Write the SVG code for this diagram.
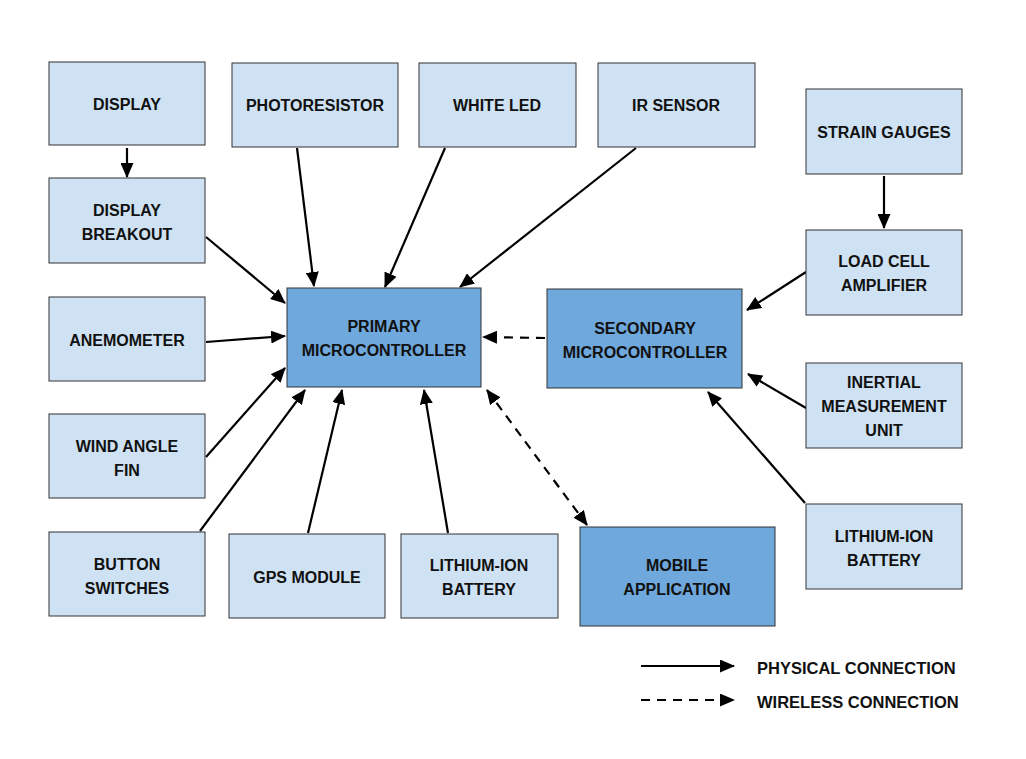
<svg xmlns="http://www.w3.org/2000/svg" width="1026" height="759" viewBox="0 0 1026 759">
<style>
.lt{fill:#cfe2f3;stroke:#333;stroke-width:1}
.dk{fill:#6fa8dc;stroke:#333;stroke-width:1}
text{font-family:"Liberation Sans",Arial,sans-serif;font-weight:bold;font-size:16px;fill:#111;text-anchor:middle;dominant-baseline:central}
.lg{text-anchor:start;font-size:16.5px}
.c{stroke:#000;stroke-width:2.2;fill:none}
.d{stroke-dasharray:9,7}
</style>
<defs>
<marker id="ah" markerUnits="userSpaceOnUse" markerWidth="15" markerHeight="13" refX="14" refY="6.5" orient="auto">
<path d="M0,0 L15,6.5 L0,13 Z" fill="#000"/>
</marker>
<marker id="as" markerUnits="userSpaceOnUse" markerWidth="15" markerHeight="13" refX="1" refY="6.5" orient="auto">
<path d="M15,0 L0,6.5 L15,13 Z" fill="#000"/>
</marker>
</defs>
<rect width="1026" height="759" fill="#fff"/>
<g id="connectors">
<line class="c" x1="127" y1="148" x2="127" y2="177" marker-end="url(#ah)"/>
<line class="c" x1="206" y1="237" x2="285" y2="303" marker-end="url(#ah)"/>
<line class="c" x1="297" y1="148" x2="314" y2="286" marker-end="url(#ah)"/>
<line class="c" x1="445" y1="148" x2="385" y2="287" marker-end="url(#ah)"/>
<line class="c" x1="636" y1="148" x2="460" y2="287" marker-end="url(#ah)"/>
<line class="c" x1="206" y1="342" x2="285" y2="336" marker-end="url(#ah)"/>
<line class="c" x1="206" y1="457" x2="285" y2="368" marker-end="url(#ah)"/>
<line class="c" x1="200" y1="531" x2="305" y2="390" marker-end="url(#ah)"/>
<line class="c" x1="308" y1="533" x2="342" y2="390" marker-end="url(#ah)"/>
<line class="c" x1="448" y1="533" x2="424" y2="390" marker-end="url(#ah)"/>
<line class="c d" x1="487" y1="390" x2="587" y2="525" marker-start="url(#as)" marker-end="url(#ah)"/>
<line class="c d" x1="545" y1="338" x2="483" y2="337" marker-end="url(#ah)"/>
<line class="c" x1="884" y1="176" x2="884" y2="228" marker-end="url(#ah)"/>
<line class="c" x1="806" y1="272" x2="747" y2="310" marker-end="url(#ah)"/>
<line class="c" x1="806" y1="408" x2="748" y2="374" marker-end="url(#ah)"/>
<line class="c" x1="805" y1="503" x2="708" y2="392" marker-end="url(#ah)"/>
</g>
<g id="display"><rect class="lt" x="49" y="62" width="156" height="83"/><text x="127" y="104">DISPLAY</text></g>
<g id="photoresistor"><rect class="lt" x="232" y="63" width="166" height="84"/><text x="315" y="105">PHOTORESISTOR</text></g>
<g id="whiteled"><rect class="lt" x="419" y="63" width="157" height="84"/><text x="497" y="105">WHITE LED</text></g>
<g id="irsensor"><rect class="lt" x="598" y="63" width="157" height="84"/><text x="676" y="105">IR SENSOR</text></g>
<g id="straingauges"><rect class="lt" x="806" y="89" width="156" height="85"/><text x="884" y="132">STRAIN GAUGES</text></g>
<g id="displaybreakout"><rect class="lt" x="49" y="178" width="156" height="85"/><text x="127" y="210">DISPLAY</text><text x="127" y="234">BREAKOUT</text></g>
<g id="loadcell"><rect class="lt" x="806" y="230" width="156" height="85"/><text x="884" y="261">LOAD CELL</text><text x="884" y="285">AMPLIFIER</text></g>
<g id="anemometer"><rect class="lt" x="49" y="297" width="156" height="84"/><text x="127" y="340">ANEMOMETER</text></g>
<g id="primary"><rect class="dk" x="287" y="288" width="194" height="99"/><text x="384" y="326">PRIMARY</text><text x="384" y="350">MICROCONTROLLER</text></g>
<g id="secondary"><rect class="dk" x="547" y="289" width="195" height="99"/><text x="645" y="328">SECONDARY</text><text x="645" y="352">MICROCONTROLLER</text></g>
<g id="imu"><rect class="lt" x="806" y="363" width="156" height="85"/><text x="884" y="382">INERTIAL</text><text x="884" y="406">MEASUREMENT</text><text x="884" y="430">UNIT</text></g>
<g id="windangle"><rect class="lt" x="49" y="414" width="156" height="84"/><text x="127" y="446">WIND ANGLE</text><text x="127" y="470">FIN</text></g>
<g id="buttons"><rect class="lt" x="49" y="532" width="156" height="84"/><text x="127" y="564">BUTTON</text><text x="127" y="588">SWITCHES</text></g>
<g id="gps"><rect class="lt" x="229" y="534" width="156" height="84"/><text x="307" y="577">GPS MODULE</text></g>
<g id="battery1"><rect class="lt" x="401" y="534" width="157" height="84"/><text x="479" y="565">LITHIUM-ION</text><text x="479" y="589">BATTERY</text></g>
<g id="mobile"><rect class="dk" x="580" y="527" width="195" height="99"/><text x="677" y="565">MOBILE</text><text x="677" y="589">APPLICATION</text></g>
<g id="battery2"><rect class="lt" x="806" y="504" width="156" height="85"/><text x="884" y="536">LITHIUM-ION</text><text x="884" y="560">BATTERY</text></g>
<g id="legend">
<line class="c" x1="641" y1="666" x2="734" y2="666" marker-end="url(#ah)"/>
<line class="c d" x1="641" y1="700" x2="734" y2="700" marker-end="url(#ah)"/>
<text class="lg" x="757" y="668">PHYSICAL CONNECTION</text>
<text class="lg" x="757" y="702">WIRELESS CONNECTION</text>
</g>
</svg>
